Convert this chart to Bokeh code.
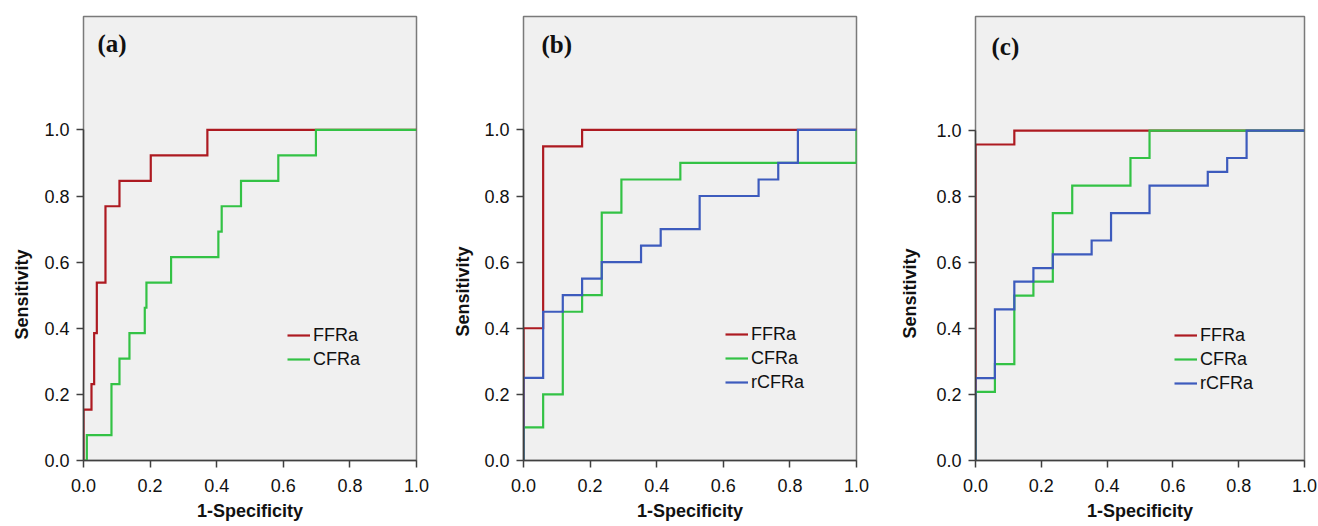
from bokeh.plotting import figure
from bokeh.layouts import row
from bokeh.models import (Range1d, FixedTicker, NumeralTickFormatter, Legend,
                          LegendItem, Label, Title)
from bokeh.embed import file_html
from bokeh.resources import INLINE

# ---------------- data (ROC points: 1-Specificity, Sensitivity) ----------------
x_ticks = [0.0, 0.2, 0.4, 0.6, 0.8, 1.0]
y_ticks = [0.0, 0.2, 0.4, 0.6, 0.8, 1.0]
x_title = "1-Specificity"
y_title = "Sensitivity"
panel_titles = ["(a)", "(b)", "(c)"]

a_ffra_fpr = [0.0, 0.0, 0.024, 0.032, 0.040, 0.066, 0.108, 0.202, 0.372, 1.0]
a_ffra_tpr = [0.0, 0.154, 0.231, 0.385, 0.538, 0.769, 0.846, 0.923, 1.0, 1.0]
a_cfra_fpr = [0.0, 0.010, 0.084, 0.108, 0.138, 0.184, 0.189, 0.263, 0.405, 0.415, 0.473, 0.585, 0.698, 1.0]
a_cfra_tpr = [0.0, 0.077, 0.231, 0.308, 0.385, 0.462, 0.538, 0.615, 0.692, 0.769, 0.846, 0.923, 1.0, 1.0]

b_ffra_fpr = [0.0, 0.0, 0.059, 0.176, 1.0]
b_ffra_tpr = [0.0, 0.40, 0.95, 1.0, 1.0]
b_cfra_fpr = [0.0, 0.0, 0.059, 0.118, 0.176, 0.235, 0.294, 0.471, 1.0]
b_cfra_tpr = [0.0, 0.10, 0.20, 0.45, 0.50, 0.75, 0.85, 0.90, 1.0]
b_rcfra_fpr = [0.0, 0.0, 0.059, 0.118, 0.176, 0.235, 0.353, 0.412, 0.529, 0.706, 0.765, 0.824, 1.0]
b_rcfra_tpr = [0.0, 0.25, 0.45, 0.50, 0.55, 0.60, 0.65, 0.70, 0.80, 0.85, 0.90, 1.0, 1.0]

c_ffra_fpr = [0.0, 0.0, 0.118, 1.0]
c_ffra_tpr = [0.0, 0.958, 1.0, 1.0]
c_cfra_fpr = [0.0, 0.0, 0.059, 0.118, 0.176, 0.235, 0.294, 0.471, 0.529, 1.0]
c_cfra_tpr = [0.0, 0.208, 0.292, 0.500, 0.542, 0.750, 0.833, 0.917, 1.0, 1.0]
c_rcfra_fpr = [0.0, 0.0, 0.059, 0.118, 0.176, 0.235, 0.353, 0.412, 0.529, 0.706, 0.765, 0.824, 1.0]
c_rcfra_tpr = [0.0, 0.250, 0.458, 0.542, 0.583, 0.625, 0.667, 0.750, 0.833, 0.875, 0.917, 1.0, 1.0]

COLORS = {"FFRa": "#ad1a21", "CFRa": "#33c245", "rCFRa": "#3d5bbd"}
SANS = "Liberation Sans"
SERIF = "Liberation Serif"
TEXT = "#111111"


def make_panel(title, series, width, height, left, right, top, bottom,
               y_top, leg_xy, title_xy, ytitle_offset, ytitle_standoff):
    p = figure(width=width, height=height, output_backend="svg",
               toolbar_location=None, tools="",
               x_range=Range1d(0, 1), y_range=Range1d(0, y_top),
               min_border_left=left, min_border_right=right,
               min_border_top=top, min_border_bottom=bottom)
    p.border_fill_color = "white"
    p.background_fill_color = "#f0f0f0"
    p.outline_line_color = "#7a7a7a"
    p.outline_line_width = 1.5
    p.xgrid.visible = False
    p.ygrid.visible = False

    for ax, ticks in ((p.xaxis[0], x_ticks), (p.yaxis[0], y_ticks)):
        ax.ticker = FixedTicker(ticks=ticks)
        ax.formatter = NumeralTickFormatter(format="0.0")
        ax.bounds = (0, 1)
        ax.minor_tick_line_color = None
        ax.major_tick_in = 0
        ax.major_tick_out = 7
        ax.axis_line_color = "#404040"
        ax.axis_line_width = 1.5
        ax.major_tick_line_color = "#404040"
        ax.major_tick_line_width = 1.5
        ax.major_label_text_font = SANS
        ax.major_label_text_font_size = "18px"
        ax.major_label_text_color = TEXT
        ax.axis_label_text_font = SANS
        ax.axis_label_text_font_size = "18px"
        ax.axis_label_text_font_style = "bold"
        ax.axis_label_text_color = TEXT
    p.xaxis.axis_label = x_title
    p.xaxis.major_label_standoff = 11
    p.xaxis.axis_label_standoff = 6
    p.yaxis.major_label_standoff = 7

    # y title: SPSS centres it on the 0..1 span, not on the whole frame
    p.add_layout(Title(text=y_title, align="left", offset=ytitle_offset,
                       standoff=ytitle_standoff, text_font=SANS,
                       text_font_size="18px", text_font_style="bold",
                       text_color=TEXT), "left")

    items = []
    for name, fpr, tpr in series:
        r = p.step(fpr, tpr, mode="after", line_color=COLORS[name],
                   line_width=2.2, line_join="miter")
        items.append(LegendItem(label=name, renderers=[r]))

    leg = Legend(items=items, location=leg_xy, orientation="vertical",
                 background_fill_alpha=0, border_line_alpha=0,
                 margin=0, padding=0, spacing=0,
                 glyph_width=23, glyph_height=24, label_height=24,
                 label_standoff=3, label_text_font=SANS,
                 label_text_font_size="18px", label_text_color=TEXT)
    p.add_layout(leg)

    p.add_layout(Label(x=title_xy[0], y=title_xy[1], x_units="screen",
                       y_units="screen", text=title, text_font=SERIF,
                       text_font_style="bold", text_font_size="25px",
                       text_baseline="middle", text_color=TEXT))
    return p


pa = make_panel(panel_titles[0],
                [("FFRa", a_ffra_fpr, a_ffra_tpr), ("CFRa", a_cfra_fpr, a_cfra_tpr)],
                width=440, height=526, left=83, right=24, top=16, bottom=63,
                y_top=1.343, leg_xy=(204, 89), title_xy=(14, 417),
                ytitle_offset=121, ytitle_standoff=19)
pb = make_panel(panel_titles[1],
                [("FFRa", b_ffra_fpr, b_ffra_tpr), ("CFRa", b_cfra_fpr, b_cfra_tpr),
                 ("rCFRa", b_rcfra_fpr, b_rcfra_tpr)],
                width=440, height=526, left=83, right=24, top=14, bottom=64,
                y_top=1.343, leg_xy=(202, 66), title_xy=(18, 416),
                ytitle_offset=124, ytitle_standoff=17)
pc = make_panel(panel_titles[2],
                [("FFRa", c_ffra_fpr, c_ffra_tpr), ("CFRa", c_cfra_fpr, c_cfra_tpr),
                 ("rCFRa", c_rcfra_fpr, c_rcfra_tpr)],
                width=438, height=526, left=95, right=14, top=16, bottom=66,
                y_top=1.346, leg_xy=(199, 65), title_xy=(16, 414),
                ytitle_offset=122, ytitle_standoff=27)

layout = row(pa, pb, pc, spacing=0)
open("out.html", "w").write(file_html(layout, INLINE))
